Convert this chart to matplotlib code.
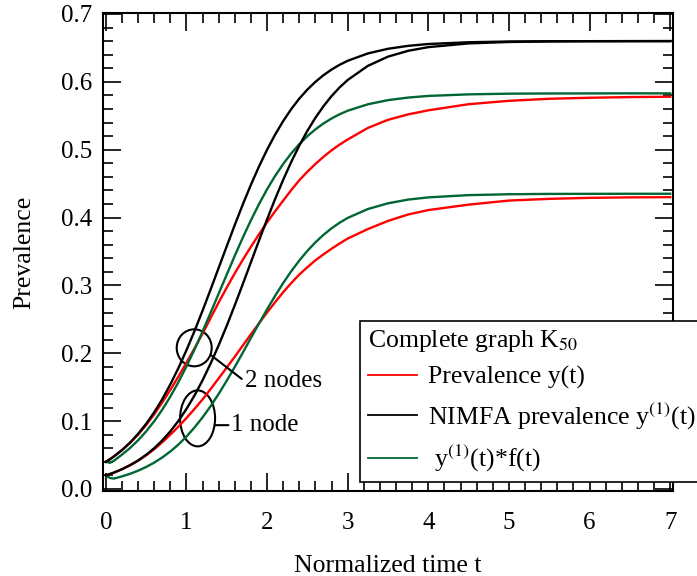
import numpy as np
import matplotlib

matplotlib.use("Agg")
import matplotlib.pyplot as plt  # noqa: E402
from matplotlib.patches import Ellipse  # noqa: E402
from matplotlib.ticker import FormatStrFormatter, MultipleLocator  # noqa: E402

plt.rcParams["font.family"] = "serif"
plt.rcParams["font.serif"] = ["Liberation Serif", "DejaVu Serif"]
plt.rcParams["mathtext.fontset"] = "stix"

# normalized time grid
t = [0, 0.05, 0.1, 0.2, 0.3, 0.4, 0.5, 0.6, 0.7, 0.8, 0.9, 1.0, 1.1, 1.2, 1.3, 1.4,
     1.5, 1.6, 1.7, 1.8, 1.9, 2.0, 2.1, 2.2, 2.3, 2.4, 2.5, 2.6, 2.7, 2.8, 2.9, 3.0,
     3.25, 3.5, 3.75, 4.0, 4.5, 5.0, 5.5, 6.0, 6.5, 7.0]

# 2 infected nodes at start
prev_2 = [0.0400, 0.0437, 0.0478, 0.0571, 0.0678, 0.0800, 0.0942, 0.1100, 0.1275,
          0.1460, 0.1656, 0.1860, 0.2072, 0.2290, 0.2520, 0.2750, 0.2968, 0.3180,
          0.3380, 0.3570, 0.3753, 0.3930, 0.4093, 0.4250, 0.4405, 0.4550, 0.4675,
          0.4790, 0.4895, 0.4990, 0.5075, 0.5150, 0.5320, 0.5440, 0.5520, 0.5580,
          0.5670, 0.5720, 0.5750, 0.5765, 0.5775, 0.5780]
nimfa_2 = [0.0400, 0.0438, 0.0479, 0.0573, 0.0683, 0.0812, 0.0960, 0.1130, 0.1323,
           0.1541, 0.1781, 0.2045, 0.2328, 0.2628, 0.2941, 0.3260, 0.3578, 0.3893,
           0.4197, 0.4484, 0.4753, 0.5000, 0.5223, 0.5422, 0.5599, 0.5753, 0.5886,
           0.6000, 0.6098, 0.6181, 0.6251, 0.6310, 0.6418, 0.6487, 0.6530, 0.6557,
           0.6583, 0.6594, 0.6598, 0.6599, 0.6600, 0.6600]
nimfa_f_2 = [0.0400, 0.0385, 0.0415, 0.0506, 0.0603, 0.0717, 0.0848, 0.0998, 0.1169,
             0.1361, 0.1573, 0.1806, 0.2056, 0.2321, 0.2598, 0.2880, 0.3160, 0.3439,
             0.3707, 0.3961, 0.4198, 0.4417, 0.4614, 0.4789, 0.4946, 0.5082, 0.5199,
             0.5300, 0.5386, 0.5460, 0.5522, 0.5574, 0.5669, 0.5730, 0.5768, 0.5792,
             0.5815, 0.5825, 0.5828, 0.5829, 0.5830, 0.5830]

# 1 infected node at start
prev_1 = [0.0200, 0.0219, 0.0240, 0.0290, 0.0349, 0.0415, 0.0496, 0.0585, 0.0688,
          0.0800, 0.0918, 0.1045, 0.1180, 0.1320, 0.1473, 0.1630, 0.1790, 0.1950,
          0.2115, 0.2280, 0.2442, 0.2600, 0.2753, 0.2900, 0.3035, 0.3160, 0.3268,
          0.3370, 0.3458, 0.3540, 0.3617, 0.3690, 0.3830, 0.3950, 0.4045, 0.4110,
          0.4190, 0.4250, 0.4275, 0.4290, 0.4297, 0.4300]
nimfa_1 = [0.0200, 0.0220, 0.0241, 0.0291, 0.0350, 0.0420, 0.0503, 0.0601, 0.0715,
           0.0849, 0.1002, 0.1179, 0.1378, 0.1602, 0.1849, 0.2119, 0.2406, 0.2710,
           0.3023, 0.3343, 0.3662, 0.3974, 0.4274, 0.4557, 0.4820, 0.5061, 0.5278,
           0.5471, 0.5641, 0.5790, 0.5918, 0.6027, 0.6235, 0.6371, 0.6457, 0.6511,
           0.6566, 0.6587, 0.6595, 0.6598, 0.6599, 0.6600]
nimfa_f_1 = [0.0200, 0.0162, 0.0153, 0.0185, 0.0223, 0.0269, 0.0324, 0.0388, 0.0464,
             0.0552, 0.0654, 0.0772, 0.0906, 0.1055, 0.1221, 0.1402, 0.1596, 0.1800,
             0.2011, 0.2226, 0.2439, 0.2648, 0.2847, 0.3035, 0.3209, 0.3367, 0.3509,
             0.3635, 0.3745, 0.3841, 0.3924, 0.3994, 0.4125, 0.4210, 0.4264, 0.4297,
             0.4330, 0.4343, 0.4348, 0.4349, 0.4350, 0.4350]

labels = ["Prevalence y(t)", r"NIMFA prevalence y$^{\mathrm{(1)}}$(t)",
          r" y$^{\mathrm{(1)}}$(t)*f(t)"]
legend_title = r"Complete graph K$_{50}$"

RED = "#ff0000"
BLACK = "#000000"
GREEN = "#006633"
LW = 1.7

fig = plt.figure(figsize=(6.97, 5.76), dpi=100)
ax = fig.add_axes([0.1478, 0.1476, 0.8178, 0.829])

t_arr = np.asarray(t)
h_red, = ax.plot(t_arr, prev_2, color=RED, lw=LW)
ax.plot(t_arr, prev_1, color=RED, lw=LW)
h_green, = ax.plot(t_arr, nimfa_f_2, color=GREEN, lw=LW)
ax.plot(t_arr, nimfa_f_1, color=GREEN, lw=LW)
h_black, = ax.plot(t_arr, nimfa_2, color=BLACK, lw=LW)
ax.plot(t_arr, nimfa_1, color=BLACK, lw=LW)

# ellipses marking the two start conditions
ax.add_patch(Ellipse((1.096, 0.208), 0.434, 0.0545, fill=False, edgecolor="black", lw=1.5))
ax.add_patch(Ellipse((1.138, 0.104), 0.434, 0.0825, fill=False, edgecolor="black", lw=1.5))
ax.annotate("2 nodes", xy=(1.300, 0.1975), xytext=(1.72, 0.159), fontsize=18,
            ha="left", va="center",
            arrowprops=dict(arrowstyle="-", lw=1.5, shrinkA=0, shrinkB=0, relpos=(0, 0.5)))
ax.annotate("1 node", xy=(1.350, 0.094), xytext=(1.555, 0.094), fontsize=18,
            ha="left", va="center",
            arrowprops=dict(arrowstyle="-", lw=1.5, shrinkA=0, shrinkB=0, relpos=(0, 0.5)))

ax.set_xlim(-0.035, 7.035)
ax.set_ylim(-0.003, 0.7007)
ax.xaxis.set_major_locator(MultipleLocator(1))
ax.xaxis.set_minor_locator(MultipleLocator(0.2))
ax.yaxis.set_major_locator(MultipleLocator(0.1))
ax.yaxis.set_minor_locator(MultipleLocator(0.02))
ax.yaxis.set_major_formatter(FormatStrFormatter("%.1f"))
ax.tick_params(which="both", direction="in", top=True, right=True, width=1.2)
ax.tick_params(which="major", length=13, labelsize=18)
ax.tick_params(which="minor", length=7)
ax.tick_params(axis="x", which="major", pad=15)
ax.tick_params(axis="y", which="major", pad=8)
for sp in ax.spines.values():
    sp.set_linewidth(1.5)

ax.set_xlabel("Normalized time t", fontsize=18.5, labelpad=15)
ax.set_ylabel("Prevalence", fontsize=18.5, labelpad=18)

leg = ax.legend([h_red, h_black, h_green], labels, title=legend_title,
                loc="upper left", bbox_to_anchor=(0.451, 0.357), borderaxespad=0,
                fancybox=False, edgecolor="black", framealpha=1, fontsize=18.5,
                title_fontsize=18.5, handlelength=1.9, handletextpad=0.45,
                labelspacing=0.45, borderpad=0.3, alignment="left")
leg.get_frame().set_linewidth(1.2)
for line in leg.get_lines():
    line.set_linewidth(1.3)

fig.savefig("out.png", dpi=100)
plt.close(fig)
